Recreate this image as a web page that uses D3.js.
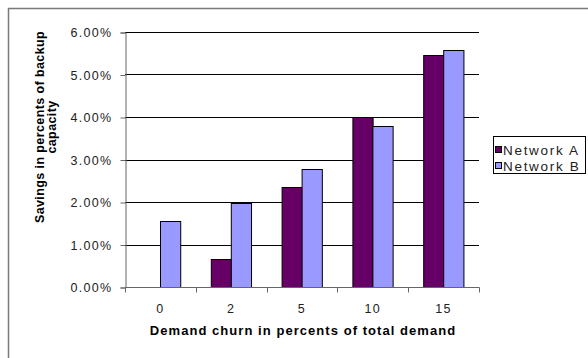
<!DOCTYPE html>
<html><head><meta charset="utf-8">
<script src="https://cdn.jsdelivr.net/npm/d3@7/dist/d3.min.js"></script>
<style>
html,body{margin:0;padding:0;background:#fff;}
svg{display:block;font-family:"Liberation Sans",Arial,sans-serif;}
</style></head>
<body>
<svg id="chart" width="588" height="358"></svg>
<script>
const categories = ["0", "2", "5", "10", "15"];
const seriesNames = ["Network A", "Network B"];
const networkA = [0, 0.0065, 0.0235, 0.0399, 0.0547];
const networkB = [0.0156, 0.0197, 0.0277, 0.0378, 0.0557];
const yTicks = [0, 0.01, 0.02, 0.03, 0.04, 0.05, 0.06];
const colors = ["#660066", "#9999FF"];

const svg = d3.select("#chart");
const pLeft = 125, pRight = 479, pTop = 32, pBottom = 287;

// outer chart border
svg.append("rect").attr("x", 8.5).attr("y", 8.5).attr("width", 620).attr("height", 400)
  .attr("fill", "none").attr("stroke", "#7a7a7a").attr("stroke-width", 1.5);

const x0 = d3.scaleBand().domain(categories).range([pLeft, pRight]).padding(0);
const x1 = d3.scaleBand().domain(seriesNames).range([0, x0.bandwidth()]).paddingInner(0).paddingOuter(0.75);
const y = d3.scaleLinear().domain([0, 0.06]).range([pBottom, pTop]);

// gridlines
svg.append("g").selectAll("line").data(yTicks.filter(d => d > 0)).join("line")
  .attr("x1", pLeft).attr("x2", pRight)
  .attr("y1", d => Math.round(y(d)) + 0.5).attr("y2", d => Math.round(y(d)) + 0.5)
  .attr("stroke", "#000").attr("stroke-width", 1);

// y axis
const yAxis = d3.axisLeft(y).tickValues(yTicks).tickFormat(d3.format(".2%")).tickSize(5).tickPadding(8);
const gy = svg.append("g").attr("transform", `translate(${pLeft + 0.5},0.5)`).call(yAxis);
gy.select(".domain").attr("stroke", "#666");
gy.selectAll(".tick line").attr("stroke", "#666");
gy.selectAll(".tick text").attr("font-size", 12.5).attr("fill", "#222").attr("letter-spacing", "1.3px")
  .attr("font-family", "Liberation Sans, Arial, sans-serif");

// bars
const data = categories.map((c, i) => ({c, vals: [networkA[i], networkB[i]]}));
const groups = svg.append("g").selectAll("g").data(data).join("g")
  .attr("transform", d => `translate(${x0(d.c)},0)`);
groups.selectAll("rect").data(d => d.vals.map((v, j) => ({v, s: seriesNames[j], j})).filter(e => e.v > 0)).join("rect")
  .attr("x", d => Math.round(x1(d.s)) + 0.5)
  .attr("y", d => Math.round(y(d.v)) + 0.5)
  .attr("width", x1.bandwidth())
  .attr("height", d => y(0) - Math.round(y(d.v)))
  .attr("fill", d => colors[d.j]).attr("stroke", "#000").attr("stroke-width", 1);

// x axis
const gx = svg.append("g").attr("transform", `translate(0,${pBottom + 0.5})`);
gx.append("line").attr("x1", pLeft).attr("x2", pRight + 0.5).attr("y1", 0).attr("y2", 0).attr("stroke", "#666");
const bounds = categories.map(c => x0(c)).concat([pRight]);
gx.selectAll("line.tk").data(bounds).join("line").attr("class", "tk")
  .attr("x1", d => Math.round(d) + 0.5).attr("x2", d => Math.round(d) + 0.5)
  .attr("y1", 0).attr("y2", 5).attr("stroke", "#666");
gx.selectAll("text").data(categories).join("text")
  .attr("x", d => x0(d) + x0.bandwidth() / 2).attr("y", 25)
  .attr("text-anchor", "middle").attr("font-size", 12.5).attr("letter-spacing", "1.3px").attr("fill", "#222")
  .text(d => d);

// axis titles
svg.append("text").attr("x", (pLeft + pRight) / 2 + 1).attr("y", 335).attr("text-anchor", "middle")
  .attr("font-size", 13).attr("font-weight", "bold").attr("letter-spacing", "1.05px")
  .text("Demand churn in percents of total demand");
const yt = svg.append("text").attr("transform", "translate(44,127) rotate(-90)")
  .attr("text-anchor", "middle").attr("font-size", 12.5).attr("font-weight", "bold").attr("letter-spacing", "0.4px");
yt.append("tspan").attr("x", 0).attr("y", 0).text("Savings in percents of backup");
yt.append("tspan").attr("x", 0).attr("y", 11.5).text("capacity");

// legend
const lg = svg.append("g");
lg.append("rect").attr("x", 493.5).attr("y", 136.5).attr("width", 92).attr("height", 37)
  .attr("fill", "#fff").attr("stroke", "#000");
const items = lg.selectAll("g").data(seriesNames).join("g")
  .attr("transform", (d, i) => `translate(495,${150 + i * 16})`);
items.append("rect").attr("x", 0.5).attr("y", -3.5).attr("width", 6).attr("height", 6)
  .attr("fill", (d, i) => colors[i]).attr("stroke", "#000");
items.append("text").attr("x", 8).attr("y", 5).attr("font-size", 13.5).attr("letter-spacing", "1.7px")
  .attr("fill", "#222").text(d => d);
</script>
</body></html>
